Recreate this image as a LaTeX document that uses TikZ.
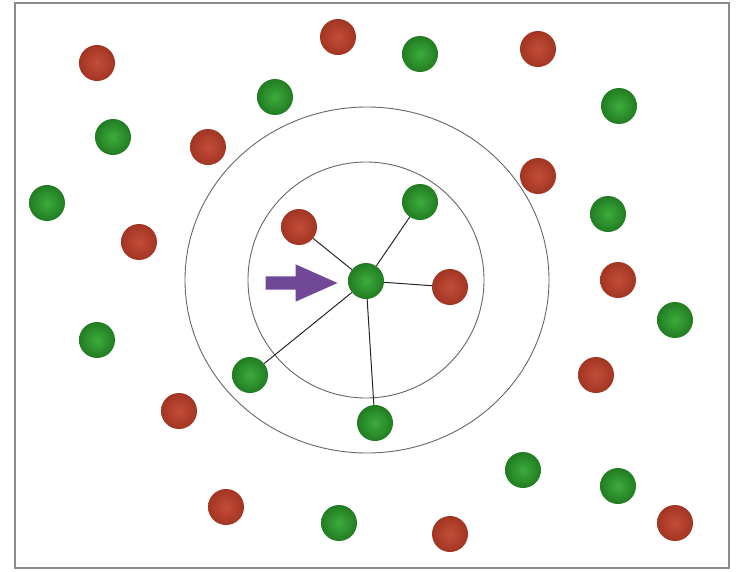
\documentclass[tikz,border=0pt]{standalone}
\usepackage{tikz}
\usetikzlibrary{shapes.arrows}
\definecolor{dotred}{RGB}{190,62,40}
\definecolor{dotgreen}{RGB}{44,165,44}
\definecolor{arrowpurple}{RGB}{112,72,150}
\tikzset{
  rdot/.style={circle, draw=none, minimum size=36pt, inner sep=0pt,
               inner color=dotred!92!white, outer color=dotred!85!black},
  gdot/.style={circle, draw=none, minimum size=36pt, inner sep=0pt,
               inner color=dotgreen!92!white, outer color=dotgreen!75!black},
  ring/.style={draw=black!60, line width=0.9pt},
  link/.style={draw=black!85, line width=1pt},
}

\begin{document}
\begin{tikzpicture}[x=1pt, y=-1pt,
                    pointer/.style={single arrow, fill=arrowpurple, draw=none,
                    minimum height=72pt, minimum width=37pt, inner sep=6.5pt,
                    single arrow head extend=12pt, single arrow tip angle=48}]
\useasboundingbox (0,0) rectangle (737,571);
\draw[black!45, line width=1.6pt] (15,3) rectangle (729,568);
\draw[ring] (367,280) ellipse [x radius=182, y radius=173];
\draw[ring] (366,280) circle [radius=118];
% red points
\node[rdot] (r1)  at (97,63)   {};
\node[rdot] (r2)  at (338,37)  {};
\node[rdot] (r3)  at (538,49)  {};
\node[rdot] (r4)  at (208,147) {};
\node[rdot] (r5)  at (538,176) {};
\node[rdot] (r6)  at (139,242) {};
\node[rdot] (r7)  at (299,227) {};
\node[rdot] (r8)  at (450,287) {};
\node[rdot] (r9)  at (618,280) {};
\node[rdot] (r10) at (596,375) {};
\node[rdot] (r11) at (179,411) {};
\node[rdot] (r12) at (226,507) {};
\node[rdot] (r13) at (450,534) {};
\node[rdot] (r14) at (675,523) {};
% green points
\node[gdot] (g1)  at (420,54)  {};
\node[gdot] (g2)  at (275,97)  {};
\node[gdot] (g3)  at (113,137) {};
\node[gdot] (g4)  at (619,106) {};
\node[gdot] (g5)  at (47,203)  {};
\node[gdot] (g6)  at (420,202) {};
\node[gdot] (g7)  at (608,214) {};
\node[gdot] (g8)  at (675,320) {};
\node[gdot] (g9)  at (97,340)  {};
\node[gdot] (g10) at (250,375) {};
\node[gdot] (g11) at (375,423) {};
\node[gdot] (g12) at (523,470) {};
\node[gdot] (g13) at (618,486) {};
\node[gdot] (g14) at (339,523) {};
\node[gdot] (query) at (366,281) {};
% nearest neighbours
\draw[link] (query) -- (r7);
\draw[link] (query) -- (g6);
\draw[link] (query) -- (r8);
\draw[link] (query) -- (g10);
\draw[link] (query) -- (g11);
\node[pointer] (mark) at (294,283) {};
\end{tikzpicture}
\end{document}
